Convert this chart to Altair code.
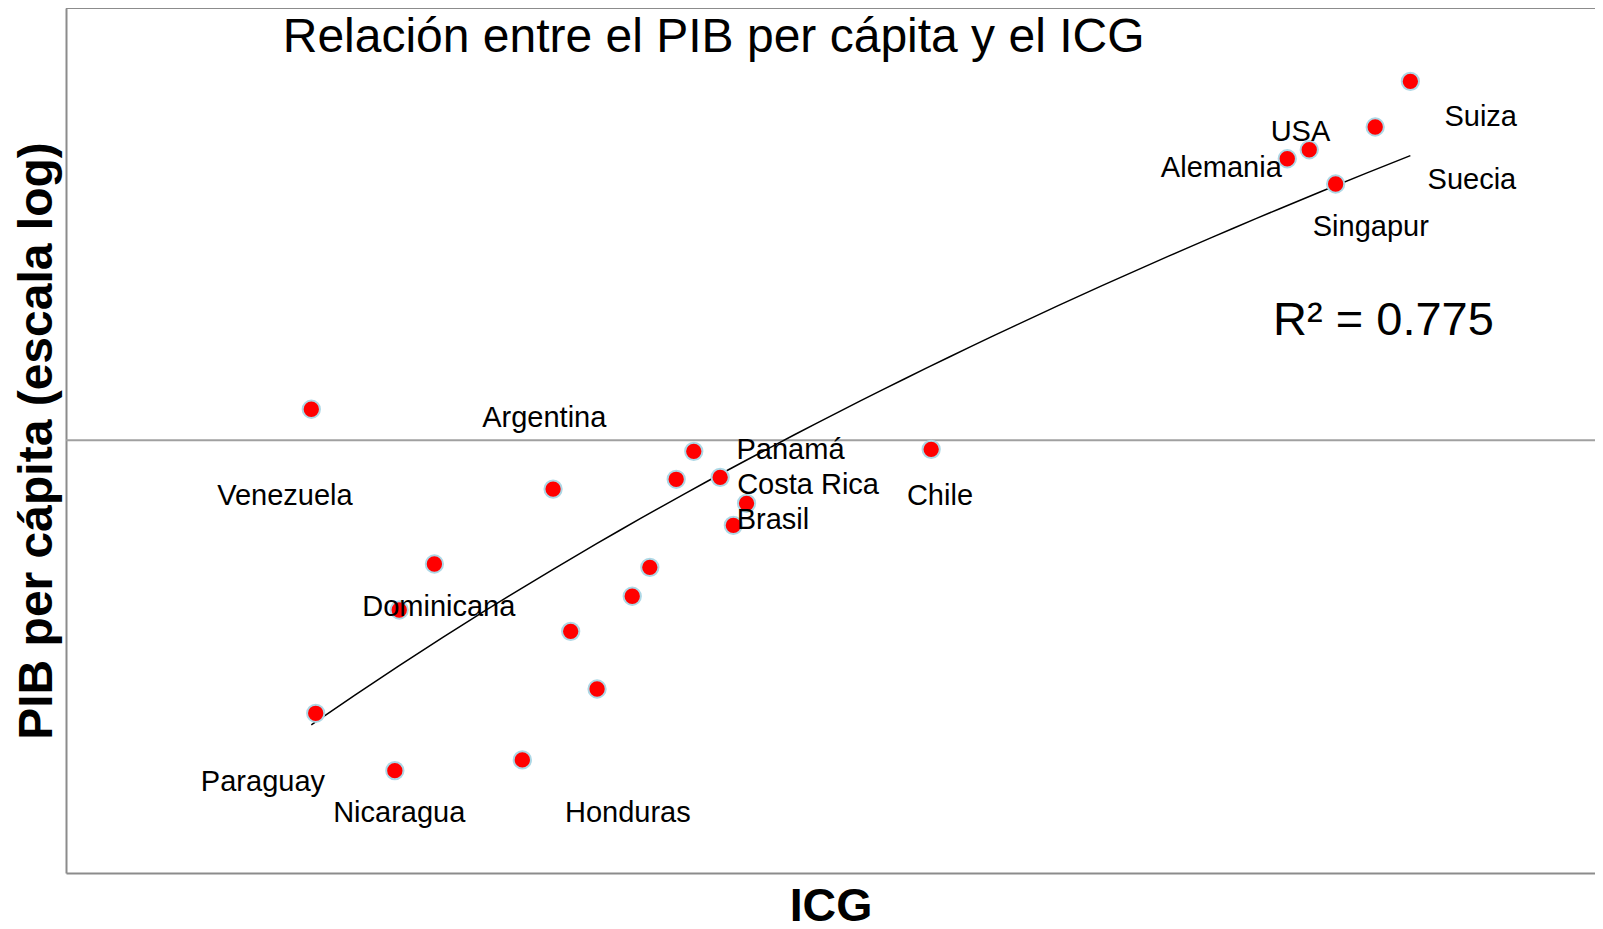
import altair as alt
import pandas as pd

# ---- data ----
paises = ["Venezuela", "Paraguay", "Nicaragua", "Dominicana", "El Salvador", "Honduras",
          "Argentina", "Ecuador", "Guatemala", "Perú", "Colombia", "Uruguay", "Panamá",
          "Costa Rica", "Brasil", "México", "Chile", "Alemania", "USA", "Singapur",
          "Suecia", "Suiza"]
icg = [3.30, 3.31, 3.49, 3.50, 3.58, 3.78, 3.85, 3.89, 3.95, 4.03, 4.07, 4.13, 4.17,
       4.23, 4.26, 4.29, 4.71, 5.52, 5.57, 5.63, 5.72, 5.80]
pib = [11970, 2057, 1475, 3742, 4885, 1570, 7540, 3307, 2368, 4052, 4792, 7979, 9383,
       8071, 6112, 6942, 9493, 51100, 53830, 44140, 61400, 80000]

etiquetas = ["Venezuela", "Argentina", "Dominicana", "Paraguay", "Nicaragua", "Honduras",
             "Panamá", "Costa Rica", "Brasil", "Chile", "Suiza", "Suecia", "USA",
             "Alemania", "Singapur"]
etiqueta_icg = [3.24, 3.83, 3.59, 3.19, 3.50, 4.02, 4.39, 4.43, 4.35, 4.73, 5.96, 5.94,
                5.55, 5.37, 5.71]
etiqueta_pib = [7316, 11533, 3852, 1398, 1170, 1170, 9547, 7795, 6365, 7328, 65810,
                45610, 60350, 49070, 34800]

referencia_pib = [10000]

titulo = "Relación entre el PIB per cápita y el ICG"
r2_texto = "R² = 0.775"

df = pd.DataFrame({"pais": paises, "icg": icg, "pib": pib})
df_lab = pd.DataFrame({"pais": etiquetas, "icg": etiqueta_icg, "pib": etiqueta_pib})

W, H = 1529, 865
FONT = "Liberation Sans"
GRAY = "#8c8c8c"

xenc = alt.X("icg:Q", scale=alt.Scale(domain=[2.742, 6.220], nice=False, zero=False),
             axis=alt.Axis(title="ICG", ticks=False, labels=False, grid=False,
                           domainColor=GRAY, domainWidth=2, titleFontSize=46.5,
                           titleFontWeight="bold", titleFont=FONT, titleColor="black",
                           titlePadding=10))
yenc = alt.Y("pib:Q", scale=alt.Scale(type="log", domain=[815.5, 122360], nice=False),
             axis=alt.Axis(title="PIB per cápita (escala log)", ticks=False, labels=False,
                           grid=False, domainColor=GRAY, domainWidth=2, titleFontSize=48,
                           titleFontWeight="bold", titleFont=FONT, titleColor="black",
                           titlePadding=5))

base = alt.Chart(df)

top_rule = base.mark_rule(color=GRAY, strokeWidth=2).encode(
    x=alt.value(0), x2=alt.value(W), y=alt.value(0))
hline = alt.Chart(pd.DataFrame({"pib": referencia_pib})).mark_rule(
    color="#a0a0a0", strokeWidth=2).encode(y=yenc)
fit = base.transform_regression("icg", "pib", method="pow").mark_line(
    color="black", strokeWidth=1.5).encode(x=xenc, y=yenc)
pts = base.mark_circle(color="red", stroke="#add8e6", strokeWidth=2, size=300,
                       opacity=1).encode(x=xenc, y=yenc)
labs = alt.Chart(df_lab).mark_text(fontSize=29, font=FONT, color="black",
                                   baseline="middle", dy=2).encode(
    x=xenc, y=yenc, text="pais:N")
title_t = alt.Chart(pd.DataFrame({"t": [titulo]})).mark_text(
    fontSize=48, font=FONT, color="black", baseline="middle").encode(
    x=alt.value(647.6), y=alt.value(30), text="t:N")
r2_t = alt.Chart(pd.DataFrame({"t": [r2_texto]})).mark_text(
    fontSize=47, font=FONT, color="black", baseline="middle").encode(
    x=alt.value(1317.5), y=alt.value(313.4), text="t:N")

chart = alt.layer(top_rule, hline, fit, pts, labs, title_t, r2_t).properties(
    width=W, height=H,
    autosize=alt.AutoSizeParams(type="none"),
    padding={"left": 58, "top": 0, "right": 0, "bottom": 56},
).configure_view(strokeWidth=0)

chart.save("out.html", embed_options={"renderer": "svg", "actions": False})
